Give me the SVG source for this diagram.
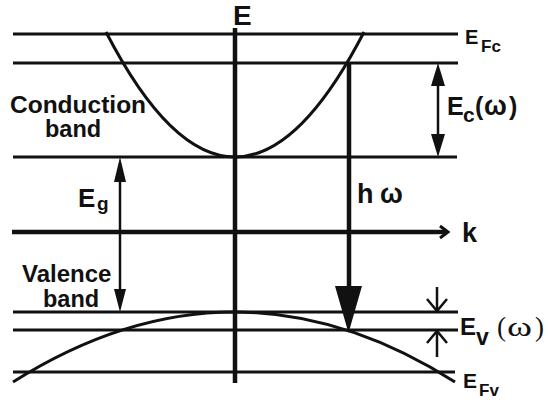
<svg xmlns="http://www.w3.org/2000/svg" width="548" height="402" viewBox="0 0 548 402">
<style>
.ln{stroke:#111;stroke-width:3;fill:none}
.ax{stroke:#111;stroke-width:4.5;fill:none}
.ar{stroke:#111;stroke-width:2.5;fill:none}
.hd{fill:#111;stroke:none}
.t{font-family:"Liberation Sans",Arial,sans-serif;font-weight:bold;fill:#111}
.s{font-family:"Liberation Serif","Times New Roman",serif;fill:#111}
</style>
<rect width="548" height="402" fill="#fff"/>
<g id="levels">
<line class="ln" x1="13" y1="34" x2="458" y2="34"/>
<line class="ln" x1="13" y1="63" x2="458" y2="63"/>
<line class="ln" x1="13" y1="157" x2="457" y2="157"/>
<line class="ln" x1="13" y1="312" x2="458" y2="312"/>
<line class="ln" x1="13" y1="330" x2="458" y2="330"/>
<line class="ln" x1="13" y1="372" x2="455" y2="372"/>
</g>
<g id="axes">
<line class="ax" x1="235" y1="28" x2="235" y2="383"/>
<line class="ax" x1="12" y1="232" x2="447" y2="232"/>
<path class="ln" d="M440,226 L448,232 L440,238"/>
<text class="t" x="233" y="25" font-size="28">E</text>
<text class="t" x="462" y="242" font-size="27">k</text>
</g>
<g id="bands">
<path class="ln" d="M106,32 Q235,282 364,32"/>
<path class="ln" d="M13,382 Q235,242 455,382"/>
<text class="t" x="10" y="113" font-size="24.5">Conduction</text>
<text class="t" x="45" y="137" font-size="23.5">band</text>
<text class="t" x="22" y="282" font-size="24">Valence</text>
<text class="t" x="43" y="307" font-size="23.5">band</text>
</g>
<g id="transition">
<line class="ax" x1="349" y1="63" x2="349" y2="290"/>
<polygon class="hd" points="335,286 362,286 348.5,333"/>
<text class="t" x="357" y="203" font-size="27">h</text>
<text class="t" x="380" y="203" font-size="27">ω</text>
</g>
<g id="gap">
<line class="ar" x1="120" y1="175" x2="120" y2="295"/>
<polygon class="hd" points="120,157 114,182 126,182"/>
<polygon class="hd" points="120,312 114,289 126,289"/>
<text class="t" x="78" y="207" font-size="26">E</text>
<text class="t" x="97" y="210" font-size="19">g</text>
</g>
<g id="Ec">
<line class="ar" x1="438" y1="80" x2="438" y2="140"/>
<polygon class="hd" points="438,63 431,86 445,86"/>
<polygon class="hd" points="438,157 431,134 445,134"/>
<text class="t" x="447" y="115" font-size="25">E</text>
<text class="t" x="463" y="122" font-size="21">c</text>
<text class="t" x="475" y="115" font-size="25">(</text>
<text class="t" x="484" y="115" font-size="27">ω</text>
<text class="t" x="509" y="115" font-size="25">)</text>
</g>
<g id="Ev">
<line class="ar" x1="437" y1="287" x2="437" y2="311"/>
<path class="ar" d="M427,299 L437,311 L447,299"/>
<line class="ar" x1="437" y1="331" x2="437" y2="357"/>
<path class="ar" d="M427,343 L437,331 L447,343"/>
<text class="t" x="460" y="335" font-size="24">E</text>
<text class="t" x="476" y="345" font-size="23">v</text>
<text class="s" x="497" y="336" font-size="27">(</text>
<text class="s" x="507" y="336" font-size="28" textLength="25" lengthAdjust="spacingAndGlyphs">ω</text>
<text class="s" x="535" y="336" font-size="27">)</text>
</g>
<g id="fermi">
<text class="t" x="465" y="44" font-size="20">E</text>
<text class="t" x="481" y="52" font-size="17">Fc</text>
<text class="t" x="463" y="388" font-size="21">E</text>
<text class="t" x="479" y="396" font-size="17">Fv</text>
</g>
</svg>
